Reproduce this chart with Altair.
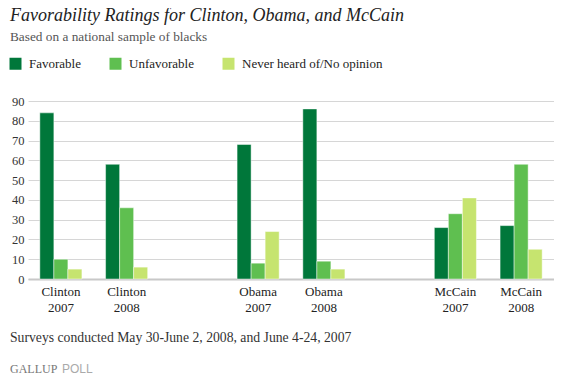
import altair as alt
import pandas as pd

# ---- data ----
groups = ["Clinton 2007", "Clinton 2008", "Obama 2007", "Obama 2008", "McCain 2007", "McCain 2008"]
slots = ["Clinton 2007", "Clinton 2008", " ", "Obama 2007", "Obama 2008", "  ", "McCain 2007", "McCain 2008"]
series = ["Favorable", "Unfavorable", "Never heard of/No opinion"]
favorable = [84, 58, 68, 86, 26, 27]
unfavorable = [10, 36, 8, 9, 33, 58]
no_opinion = [5, 6, 24, 5, 41, 15]
y_ticks = [0, 10, 20, 30, 40, 50, 60, 70, 80, 90]

title_text = ["Favorability Ratings for Clinton, Obama, and McCain"]
subtitle_text = ["Based on a national sample of blacks"]
footnote_text = ["Surveys conducted May 30-June 2, 2008, and June 4-24, 2007"]
brand1 = ["GALLUP"]
brand2 = ["POLL"]

colors = ["#00773a", "#5fbf50", "#c6e46f"]
SERIF = "Liberation Serif"
SANS = "Liberation Sans"

rows = []
for i, g in enumerate(groups):
    for s, vals in zip(series, [favorable, unfavorable, no_opinion]):
        rows.append({"group": g, "series": s, "value": vals[i]})
df = pd.DataFrame(rows)

W, H = 526, 178

bars = alt.Chart(df).mark_bar(stroke="white", strokeOpacity=0.45, strokeWidth=1).encode(
    x=alt.X(
        "group:N",
        scale=alt.Scale(domain=slots, paddingInner=0.36, paddingOuter=0.18),
        axis=alt.Axis(
            title=None, labelExpr="split(datum.label, ' ')", labelAngle=0, ticks=False,
            domainColor="#c8c8c8", domainWidth=2, labelPadding=6, labelLineHeight=16, grid=False,
            labelFont=SERIF, labelFontSize=13, labelColor="#222222",
        ),
    ),
    xOffset=alt.XOffset("series:N", scale=alt.Scale(domain=series, paddingInner=0, paddingOuter=0)),
    y=alt.Y(
        "value:Q",
        scale=alt.Scale(domain=[0, 90], nice=False),
        axis=alt.Axis(
            title=None, values=y_ticks, ticks=False, domain=False, gridColor="#d6d6d6",
            labelPadding=4, labelFont=SERIF, labelFontSize=12.5, labelColor="#333333",
        ),
    ),
    color=alt.Color(
        "series:N",
        scale=alt.Scale(domain=series, range=colors),
        legend=alt.Legend(
            title=None, orient="none", direction="horizontal", legendX=-19, legendY=-44,
            symbolType="square", symbolSize=144, symbolStrokeWidth=0,
            columnPadding=28, labelOffset=7, padding=0,
            labelFont=SERIF, labelFontSize=13, labelColor="#222222",
        ),
    ),
)


def text_layer(values, x, y, font, size, color, style="normal"):
    return alt.Chart(pd.DataFrame({"t": values})).mark_text(
        align="left", baseline="alphabetic", font=font, fontSize=size, color=color, fontStyle=style
    ).encode(text="t:N", x=alt.value(x), y=alt.value(y))


title = text_layer(title_text, -18, -80, SERIF, 18, "#222222", "italic")
subtitle = text_layer(subtitle_text, -18, -60, SERIF, 13.3, "#555555")
footnote = text_layer(footnote_text, -18, 241, SERIF, 13.7, "#333333")
b1 = text_layer(brand1, -18, 272, SERIF, 12, "#777777")
b2 = text_layer(brand2, 34, 272, SANS, 12, "#aaaaaa")

chart = alt.layer(bars, title, subtitle, footnote, b1, b2).properties(
    width=W, height=H, autosize="none",
    padding={"left": 20, "top": 93, "right": 0, "bottom": 97},
).configure(
    font=SERIF
).configure_view(
    stroke=None
)

chart.save("out.html", embed_options={"renderer": "svg", "actions": False})
